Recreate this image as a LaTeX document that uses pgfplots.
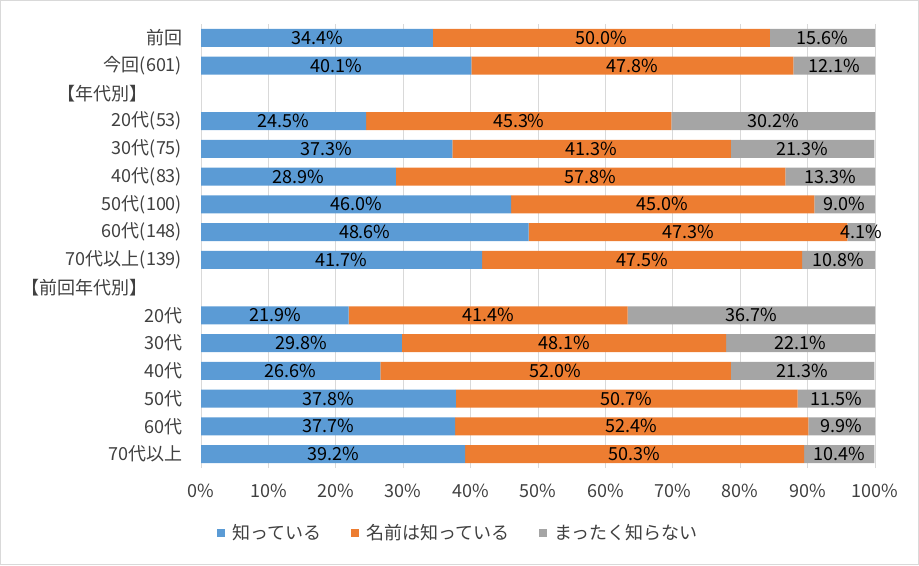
\documentclass[border=0pt]{standalone}
\usepackage{pgfplots}
\pgfplotsset{compat=1.18}
\usepackage{pgfplotstable}
\usepackage{fontspec}
\setmainfont{Noto Sans CJK JP}
\definecolor{cA}{HTML}{5B9BD5}
\definecolor{cB}{HTML}{ED7D31}
\definecolor{cC}{HTML}{A5A5A5}
\definecolor{gridgray}{HTML}{D9D9D9}
\definecolor{labgray}{HTML}{404040}
\pgfplotstableread{
idx a b c
15 34.4 50.0 15.6
14 40.1 47.8 12.1
12 24.5 45.3 30.2
11 37.3 41.3 21.3
10 28.9 57.8 13.3
9 46.0 45.0 9.0
8 48.6 47.3 4.1
7 41.7 47.5 10.8
5 21.9 41.4 36.7
4 29.8 48.1 22.1
3 26.6 52.0 21.3
2 37.8 50.7 11.5
1 37.7 52.4 9.9
0 39.2 50.3 10.4
}\datatable
\begin{document}
\begin{tikzpicture}[font=\fontsize{13.5}{16.2}\selectfont]
\draw[gridgray, line width=0.75pt] (-150.375pt,-72.375pt) rectangle (538.125pt,350.625pt);
\begin{axis}[
  scale only axis, width=505.5pt, height=333pt,
  xbar stacked, bar width=0.65,
  every axis plot post/.append style={legend image code/.code={\fill[##1] (0pt,-3pt) rectangle (6pt,3pt);}},
  xmin=0, xmax=100, ymin=-0.5, ymax=15.5,
  xtick={0,10,...,100},
  xticklabel={\pgfmathprintnumber{\tick}\%},
  ytick={0,...,15},
  yticklabels={70代以上, 60代, 50代, 40代, 30代, 20代, {【前回年代別】\hspace*{26pt}}, 70代以上(139), 60代(148), 50代(100), 40代(83), 30代(75), 20代(53), {【年代別】\hspace*{26pt}}, 今回(601), 前回},
  xmajorgrids, grid style={draw=gridgray, line width=0.75pt},
  axis line style={draw=none},
  major tick length=0pt,
  tick label style={text=labgray, inner sep=0pt},
  yticklabel style={xshift=-14pt},
  xticklabel style={yshift=-12pt},
  /pgf/number format/assume math mode=true,
  legend columns=3,
  legend cell align=left,
  legend style={at={(rel axis cs:0.0237,-0.1464)}, anchor=west, draw=none, fill=none, inner sep=0pt, text=labgray,
    nodes={inner xsep=0pt, inner ysep=1.5pt},
    /tikz/every odd column/.append style={column sep=5.25pt},
    /tikz/every even column/.append style={column sep=22.5pt}},
]
\addplot[fill=cA, draw=none] table[x=a, y=idx]{\datatable};
\addplot[fill=cB, draw=none] table[x=b, y=idx]{\datatable};
\addplot[fill=cC, draw=none] table[x=c, y=idx]{\datatable};
\legend{知っている, 名前は知っている, まったく知らない}
\end{axis}
\begin{axis}[
  scale only axis, width=505.5pt, height=333pt,
  xmin=0, xmax=100, ymin=-0.5, ymax=15.5,
  hide axis,
  point meta=explicit,
  nodes near coords={\pgfmathprintnumber[fixed,fixed zerofill,precision=1]{\pgfplotspointmeta}\%},
  every node near coord/.append style={anchor=center, text=black, inner sep=0pt},
  /pgf/number format/assume math mode=true,
]
\addplot[only marks, mark=*, mark size=0pt, mark options={draw=none, fill=none}] table[x expr=0.5*\thisrow{a}, y=idx, meta=a]{\datatable};
\addplot[only marks, mark=*, mark size=0pt, mark options={draw=none, fill=none}] table[x expr=\thisrow{a}+0.5*\thisrow{b}, y=idx, meta=b]{\datatable};
\addplot[only marks, mark=*, mark size=0pt, mark options={draw=none, fill=none}] table[x expr=\thisrow{a}+\thisrow{b}+0.5*\thisrow{c}, y=idx, meta=c]{\datatable};
\end{axis}
\end{tikzpicture}
\end{document}
